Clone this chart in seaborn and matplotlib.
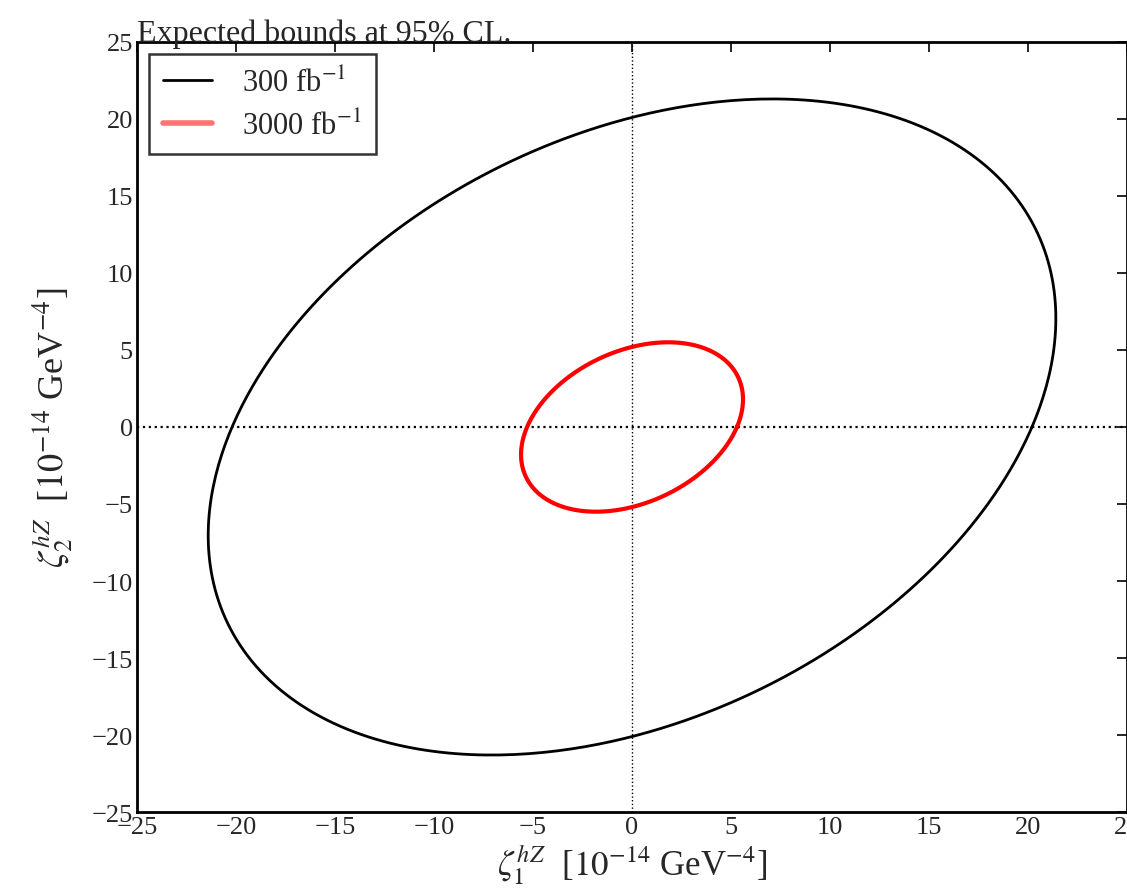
import numpy as np
import pandas as pd
import matplotlib
matplotlib.use("Agg")
import matplotlib.pyplot as plt
import seaborn as sns

# Expected 95% CL contours in the (zeta_1, zeta_2) plane, given by where each
# contour crosses the axes and how high it reaches.
luminosities = ["300 fb$^{-1}$", "3000 fb$^{-1}$"]
x_crossings = [20.2, 5.3]     # |zeta_1| where the contour crosses zeta_2 = 0
y_crossings = [20.1, 5.2]     # |zeta_2| where the contour crosses zeta_1 = 0
y_maxima = [21.3, 5.5]        # largest zeta_2 reached by the contour
line_colors = ["black", "red"]
line_widths = [2.0, 3.0]

x_ticks = [-25, -20, -15, -10, -5, 0, 5, 10, 15, 20, 25]
y_ticks = [-25, -20, -15, -10, -5, 0, 5, 10, 15, 20, 25]


def contour_points(xc, yc, ymax, n=400):
    """Closed curve a x^2 + 2 b x y + c y^2 = 1 through the given crossings."""
    a = 1.0 / xc ** 2
    c = 1.0 / yc ** 2
    b = -np.sqrt(max(a * (c - 1.0 / ymax ** 2), 0.0))  # positive correlation
    t = np.linspace(0, 2 * np.pi, n)
    ct, st = np.cos(t), np.sin(t)
    r = 1.0 / np.sqrt(a * ct ** 2 + 2 * b * ct * st + c * st ** 2)
    return r * ct, r * st


frames = []
for lab, xc, yc, ym in zip(luminosities, x_crossings, y_crossings, y_maxima):
    x, y = contour_points(xc, yc, ym)
    frames.append(pd.DataFrame({"zeta1": x, "zeta2": y, "lumi": lab}))
df = pd.concat(frames, ignore_index=True)

sns.set_style("white")
plt.rcParams["font.family"] = ["Liberation Serif", "DejaVu Serif"]
plt.rcParams["mathtext.fontset"] = "stix"
plt.rcParams["xtick.direction"] = "in"
plt.rcParams["ytick.direction"] = "in"
plt.rcParams["xtick.top"] = True
plt.rcParams["ytick.right"] = True

fig = plt.figure(figsize=(11.27, 8.95), dpi=100)
ax = fig.add_axes([0.1216, 0.0916, 0.8784, 0.8604])

for (lab, col, lw) in zip(luminosities, line_colors, line_widths):
    sub = df[df["lumi"] == lab]
    sns.lineplot(data=sub, x="zeta1", y="zeta2", sort=False, estimator=None,
                 color=col, linewidth=lw, label=lab, ax=ax)

ax.axhline(0, color="black", linestyle=":", linewidth=1.6, zorder=0)
ax.axvline(0, color="black", linestyle=":", linewidth=1.0, zorder=0)

ax.set_xlim(-25, 25)
ax.set_ylim(-25, 25)
ax.set_xticks(x_ticks)
ax.set_yticks(y_ticks)
ax.tick_params(labelsize=19, length=7, width=1.2, color="black", pad=3)
for s in ax.spines.values():
    s.set_color("black")
    s.set_linewidth(2.0)

ax.set_xlabel(r"$\zeta_1^{hZ}$  [$10^{-14}$ GeV$^{-4}$]", fontsize=25,
              labelpad=2)
ax.set_ylabel(r"$\zeta_2^{hZ}$  [$10^{-14}$ GeV$^{-4}$]", fontsize=26,
              labelpad=12)
ax.set_title("Expected bounds at 95% CL.", loc="left", fontsize=23, pad=1)

leg = ax.legend(loc="upper left", fontsize=22, frameon=True, fancybox=False,
                handlelength=1.6, borderpad=0.45, labelspacing=0.4,
                handletextpad=1.0, borderaxespad=0.4)
leg.get_frame().set_edgecolor("black")
leg.get_frame().set_linewidth(1.8)
leg.get_lines()[1].set_alpha(0.55)
leg.get_lines()[1].set_linewidth(4)

fig.savefig("out.png", dpi=100)
